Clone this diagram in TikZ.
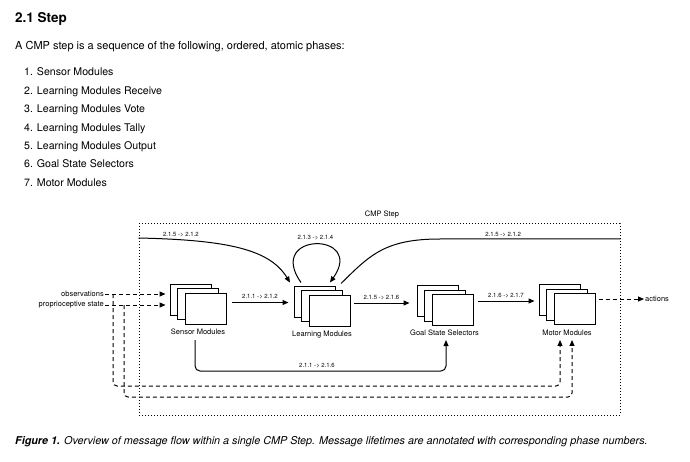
\documentclass[tikz,border=0pt]{standalone}
\usepackage{fontspec}
\setmainfont{TeX Gyre Heros}
\usetikzlibrary{arrows.meta, shadows}

\begin{document}
\begin{tikzpicture}[x=1pt, y=-1pt, flow/.style={-{Triangle[length=6pt, width=5pt]}, line width=1pt}, dflow/.style={flow, dash pattern=on 4pt off 3pt}]
    \tikzset{modstack/.style={rectangle, draw=black, fill=white, line width=1pt, minimum width=41pt, minimum height=31pt, inner sep=0pt, double copy shadow={shadow xshift=-7.5pt, shadow yshift=4.5pt}}};
    \tikzset{stepbox/.style={rectangle, draw=black, line width=1pt, dash pattern=on 0.8pt off 2.2pt, minimum width=481pt, minimum height=191pt, inner sep=0pt}};
    \tikzset{hand/.style={font=\fontsize{7.5}{9}\selectfont, inner sep=1pt}};
    \tikzset{lbl/.style={font=\fontsize{6}{7}\selectfont, inner sep=1pt}};
    \tikzset{body/.style={anchor=base west, inner sep=0pt, font=\fontsize{10.6}{13}\selectfont}};

    \fill[white] (0,0) rectangle (690,462);

    \node[body, font=\bfseries\fontsize{13.5}{16}\selectfont] (title) at (15,23) {2.1 Step};
    \node[body, font=\fontsize{11}{13}\selectfont] (intro) at (15,50) {A CMP step is a sequence of the following, ordered, atomic phases:};
    \node[body] (p1) at (24,76) {1. Sensor Modules};
    \node[body] (p2) at (24,94.4) {2. Learning Modules Receive};
    \node[body] (p3) at (24,112.7) {3. Learning Modules Vote};
    \node[body] (p4) at (24,131.1) {4. Learning Modules Tally};
    \node[body] (p5) at (24,149.4) {5. Learning Modules Output};
    \node[body] (p6) at (24,167.8) {6. Goal State Selectors};
    \node[body] (p7) at (24,186.1) {7. Motor Modules};

    \node[stepbox] (cmp) at (379.5,319.5) {};
    \node[hand] (cmplabel) at (382,215) {CMP Step};

    \node[modstack] (sm) at (205.5,308.5) {};
    \node[modstack] (lm) at (329.5,310.5) {};
    \node[modstack] (gs) at (452.5,310) {};
    \node[modstack] (mm) at (574.5,309) {};
    \node[hand] (smlabel) at (198,332) {Sensor Modules};
    \node[hand] (lmlabel) at (322,335) {Learning Modules};
    \node[hand] (gslabel) at (444.5,333) {Goal State Selectors};
    \node[hand] (mmlabel) at (567,333) {Motor Modules};

    \node[hand, anchor=east] (obs) at (105,294) {observations};
    \node[hand, anchor=east] (prop) at (105,305) {proprioceptive state};
    \node[hand, anchor=west] (act) at (644,299) {actions};

    \draw[flow] ([shift={(5pt,6pt)}]sm.east) -- ([shift={(-20pt,6pt)}]sm.east -| lm.west)
        node[lbl, midway, above=2pt] {2.1.1 -> 2.1.2};
    \draw[flow] ([shift={(3pt,7.5pt)}]lm.east) -- ([shift={(-22pt,7.5pt)}]lm.east -| gs.west)
        node[lbl, midway, above=2pt] {2.1.5 -> 2.1.6};
    \draw[flow] ([shift={(4pt,9pt)}]gs.east) -- ([shift={(-19pt,9pt)}]gs.east -| mm.west)
        node[lbl, midway, above=2pt] {2.1.6 -> 2.1.7};
    \draw[dflow] ([shift={(3pt,10pt)}]mm.east) -- (act.west);

    \draw[flow] (cmp.west |- 0,238) .. controls (230,240) and (270,250) .. ([shift={(-39.5pt,12pt)}]lm.north)
        node[lbl, pos=0.17, above=1pt] {2.1.5 -> 2.1.2};
    \draw[line width=1pt] (cmp.east |- 0,239) -- (440,239)
        node[lbl, pos=0.65, above=1pt] {2.1.5 -> 2.1.2}
        .. controls (385,239) and (370,255) .. ([shift={(11.5pt,11pt)}]lm.north);
    \draw[flow] ([shift={(-28.5pt,12pt)}]lm.north) .. controls +(-36,-51) and +(36,-51) .. ([shift={(0.5pt,12pt)}]lm.north)
        node[lbl, pos=0.5, above=3pt] {2.1.3 -> 2.1.4};

    \coordinate (low) at (317,371);
    \draw[flow, rounded corners=5pt] ([shift={(-3pt,-4pt)}]smlabel.south) |- (low)
        node[lbl, above=2pt] {2.1.1 -> 2.1.6} -| ([shift={(1.5pt,-3pt)}]gslabel.south);

    \draw[dflow] (obs.east) -- ([xshift=-19pt]obs.east -| sm.west);
    \draw[dflow] (prop.east) -- ([xshift=-19pt]prop.east -| sm.west);
    \coordinate (j1) at (113,294);
    \coordinate (j2) at (124,305);
    \coordinate (fb1) at (340,386);
    \coordinate (fb2) at (340,397);
    \draw[dflow, rounded corners=4pt] (j1) |- (fb1) -| ([shift={(-7pt,-3pt)}]mmlabel.south);
    \draw[dflow, rounded corners=4pt] (j2) |- (fb2) -| ([shift={(5pt,-3pt)}]mmlabel.south);

    \node[body, font=\itshape\fontsize{10.8}{13}\selectfont] (caption) at (15,444) {\textbf{Figure 1.} Overview of message flow within a single CMP Step. Message lifetimes are annotated with corresponding phase numbers.};
\end{tikzpicture}
\end{document}
